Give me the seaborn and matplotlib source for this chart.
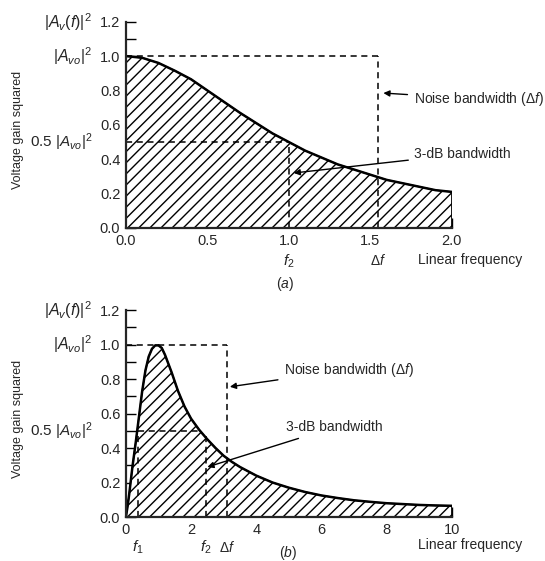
import numpy as np
import pandas as pd
import matplotlib
matplotlib.use('Agg')
import matplotlib.pyplot as plt
import seaborn as sns
from matplotlib.ticker import MultipleLocator
import matplotlib.transforms as mtransforms

# --------------------
# Data
# --------------------
# (a) low-pass response
freq_a = [0.0, 0.1, 0.2, 0.3, 0.4, 0.5, 0.6, 0.7, 0.8, 0.9, 1.0,
          1.1, 1.2, 1.3, 1.4, 1.5, 1.6, 1.7, 1.8, 1.9, 2.0]
gain_a = [1.00, 0.99, 0.96, 0.915, 0.865, 0.80, 0.735, 0.67, 0.61, 0.55, 0.50,
          0.45, 0.41, 0.37, 0.34, 0.31, 0.28, 0.26, 0.24, 0.22, 0.21]
f2_a = 1.0
df_a = 1.55

# (b) band-pass response
freq_b = [0.0, 0.05, 0.1, 0.15, 0.2, 0.3, 0.4, 0.5, 0.6, 0.7, 0.8, 0.9, 1.0,
          1.1, 1.2, 1.4, 1.6, 1.8, 2.0, 2.25, 2.5, 2.75, 3.0, 3.25, 3.5,
          4.0, 4.5, 5.0, 5.5, 6.0, 6.5, 7.0, 7.5, 8.0, 8.5, 9.0, 9.5, 10.0]
gain_b = [0.00, 0.06, 0.13, 0.21, 0.29, 0.43, 0.58, 0.73, 0.85, 0.93, 0.975, 0.995, 0.995,
          0.98, 0.94, 0.84, 0.73, 0.64, 0.57, 0.505, 0.45, 0.40, 0.355, 0.32, 0.29,
          0.24, 0.20, 0.17, 0.145, 0.125, 0.11, 0.097, 0.088, 0.08, 0.075, 0.07, 0.067, 0.065]
f1_b = 0.38
f2_b = 2.45
df_b = 3.1

ylabel_text = 'Voltage gain squared'
xlabel_text = 'Linear frequency'

sns.set_style('ticks')
plt.rcParams['font.family'] = ['Liberation Sans', 'DejaVu Sans']
plt.rcParams['mathtext.fontset'] = 'custom'
plt.rcParams['mathtext.rm'] = 'Liberation Sans'
plt.rcParams['mathtext.it'] = 'Liberation Sans:italic'
plt.rcParams['mathtext.bf'] = 'Liberation Sans:bold'
plt.rcParams['hatch.linewidth'] = 1.0

fig = plt.figure(figsize=(5.45, 5.61), dpi=100)
ax_a = fig.add_axes([0.231, 0.5936, 0.598, 0.3677])
ax_b = fig.add_axes([0.231, 0.0784, 0.598, 0.3690])


def style_axes(ax, xmax, xmajor, xminor):
    ax.set_xlim(0, xmax)
    ax.set_ylim(0, 1.2)
    sns.despine(ax=ax)
    ax.spines['left'].set_linewidth(1.6)
    ax.spines['bottom'].set_linewidth(1.6)
    ax.xaxis.set_major_locator(MultipleLocator(xmajor))
    ax.xaxis.set_minor_locator(MultipleLocator(xminor))
    ax.yaxis.set_major_locator(MultipleLocator(0.2))
    ax.yaxis.set_minor_locator(MultipleLocator(0.1))
    ax.tick_params(which='both', direction='in', length=7, width=1.0,
                   labelsize=10.5, pad=4, color='black')
    ax.set_xlabel('')
    ax.set_ylabel('')
    for s in ax.spines.values():
        s.set_zorder(5)


def left_labels(ax):
    tr = mtransforms.blended_transform_factory(ax.transAxes, ax.transData)
    ax.text(-0.103, 1.2, r'$|A_v(f)|^2$', transform=tr, ha='right', va='center', fontsize=11.5)
    ax.text(-0.103, 1.0, r'$|A_{vo}|^2$', transform=tr, ha='right', va='center', fontsize=11.5)
    ax.text(-0.103, 0.5, r'$0.5\ |A_{vo}|^2$', transform=tr, ha='right', va='center', fontsize=11)
    ax.text(-0.33, 0.57, ylabel_text, transform=tr, rotation=90, ha='center', va='center', fontsize=9)


# --------------------
# (a)
# --------------------
data_a = pd.DataFrame({'f': freq_a, 'g': gain_a})
ax_a.fill_between(data_a['f'], 0, data_a['g'], facecolor='white', edgecolor='black',
                  hatch='///', linewidth=1.0, zorder=1)
sns.lineplot(data=data_a, x='f', y='g', ax=ax_a, color='black', linewidth=1.8, zorder=3)
dash = dict(color='black', linestyle=(0, (4, 3)), linewidth=1.1, zorder=2)
ax_a.plot([0, df_a], [1.0, 1.0], **dash)
ax_a.plot([df_a, df_a], [0, 1.0], **dash)
ax_a.plot([0, f2_a], [0.5, 0.5], **dash)
ax_a.plot([f2_a, f2_a], [0, 0.5], **dash)
style_axes(ax_a, 2.0, 0.5, 0.25)
ax_a.set_xticklabels(['%.1f' % v for v in ax_a.get_xticks()])
ax_a.set_yticklabels(['%.1f' % v for v in ax_a.get_yticks()])
left_labels(ax_a)

arrow = dict(arrowstyle='-|>', color='black', lw=1.0, mutation_scale=9, shrinkA=2, shrinkB=0)
ax_a.annotate('Noise bandwidth ' + r'$(\Delta f)$', xy=(1.58, 0.785), xytext=(1.765, 0.75),
              fontsize=10, ha='left', va='center', arrowprops=arrow)
ax_a.annotate('3-dB bandwidth', xy=(1.03, 0.32), xytext=(1.77, 0.43),
              fontsize=10, ha='left', va='center', arrowprops=arrow)

tr_a = mtransforms.blended_transform_factory(ax_a.transData, ax_a.transAxes)
ax_a.text(f2_a, -0.16, r'$f_2$', transform=tr_a, ha='center', va='center', fontsize=11)
ax_a.text(df_a, -0.16, r'$\Delta f$', transform=tr_a, ha='center', va='center', fontsize=10)
ax_a.text(0.896, -0.155, xlabel_text, transform=ax_a.transAxes, ha='left', va='center', fontsize=10)
ax_a.text(0.488, -0.27, r'$(a)$', transform=ax_a.transAxes, ha='center', va='center', fontsize=10)

# --------------------
# (b)
# --------------------
data_b = pd.DataFrame({'f': freq_b, 'g': gain_b})
ax_b.fill_between(data_b['f'], 0, data_b['g'], facecolor='white', edgecolor='black',
                  hatch='///', linewidth=1.0, zorder=1)
sns.lineplot(data=data_b, x='f', y='g', ax=ax_b, color='black', linewidth=1.8, zorder=3)
ax_b.plot([0, df_b], [1.0, 1.0], **dash)
ax_b.plot([df_b, df_b], [0, 1.0], **dash)
ax_b.plot([f1_b, 2.3], [0.5, 0.5], **dash)
ax_b.plot([f1_b, f1_b], [0, 0.5], **dash)
ax_b.plot([f2_b, f2_b], [0, 0.47], **dash)
style_axes(ax_b, 10, 2, 1)
ax_b.set_xticklabels(['%d' % v for v in ax_b.get_xticks()])
ax_b.set_yticklabels(['%.1f' % v for v in ax_b.get_yticks()])
left_labels(ax_b)

ax_b.annotate('Noise bandwidth ' + r'$(\Delta f)$', xy=(3.19, 0.755), xytext=(4.85, 0.855),
              fontsize=10, ha='left', va='center', arrowprops=arrow)
ax_b.annotate('3-dB bandwidth', xy=(2.5, 0.29), xytext=(4.9, 0.52),
              fontsize=10, ha='left', va='center', arrowprops=arrow)

tr_b = mtransforms.blended_transform_factory(ax_b.transData, ax_b.transAxes)
ax_b.text(f1_b, -0.145, r'$f_1$', transform=tr_b, ha='center', va='center', fontsize=11)
ax_b.text(f2_b, -0.145, r'$f_2$', transform=tr_b, ha='center', va='center', fontsize=11)
ax_b.text(df_b, -0.145, r'$\Delta f$', transform=tr_b, ha='center', va='center', fontsize=10)
ax_b.text(0.896, -0.135, xlabel_text, transform=ax_b.transAxes, ha='left', va='center', fontsize=10)
ax_b.text(0.497, -0.172, r'$(b)$', transform=ax_b.transAxes, ha='center', va='center', fontsize=10)

plt.savefig('out.png', dpi=100, facecolor='white')
